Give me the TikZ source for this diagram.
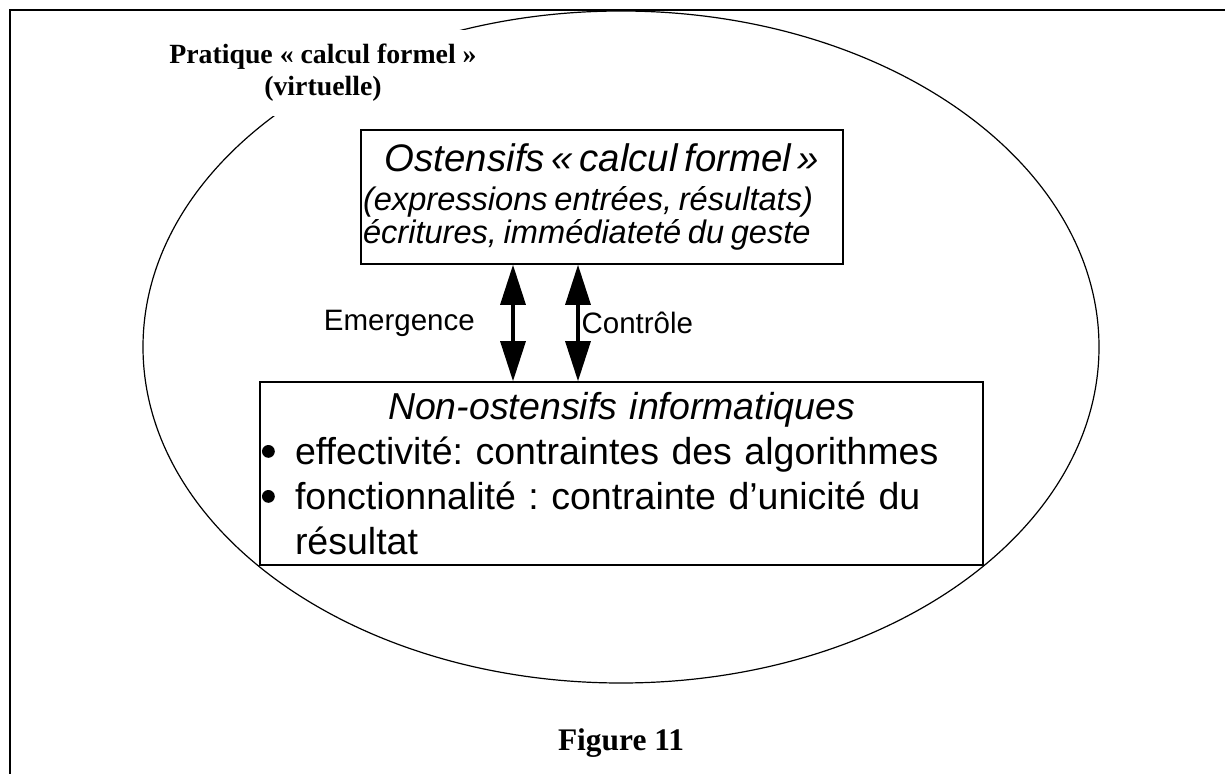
\documentclass[tikz,border=0pt]{standalone}
\usepackage{fontspec}
\setmainfont{Liberation Serif}
\setsansfont{Liberation Sans}
\usepackage{tikz}
\usetikzlibrary{shapes.geometric, arrows.meta, positioning}
\frenchspacing
\newcommand\itemdot{\tikz[baseline=-6.5pt]\fill (0pt,0pt) circle[radius=3.2pt];}

\begin{document}
\begin{tikzpicture}[
    x=0.5pt, y=0.5pt,
    box/.style={rectangle, draw, line width=0.8pt, inner xsep=1pt, inner ysep=0pt, align=left, font=\sffamily},
    biarrow/.style={{Triangle[length=20pt,width=12.5pt]}-{Triangle[length=20pt,width=12.5pt]}, line width=1.6pt},
    tag/.style={font=\sffamily\fontsize{14.75}{17.7}\selectfont}
]
    \useasboundingbox (0,0) rectangle (1225,-774);
    \draw[line width=1pt] (10,-774) |- (1225,-10);

    \node[ellipse, draw, line width=0.6pt, minimum width=478pt, minimum height=336pt, inner sep=0pt] (practice) at (621,-347) {};
    \node[fill=white, inner xsep=0pt, inner ysep=0pt, minimum height=43pt, align=center, anchor=south east, font=\bfseries\fontsize{13.9}{16}\selectfont] (practicelabel) at (477,-116) {Pratique « calcul formel »\\(virtuelle)};

    \node[box, text width=239pt, minimum height=67pt] (ostensifs) at (602,-197) {{\centering\fontsize{19.2}{22}\selectfont\itshape Ostensifs « calcul formel »\par}\fontsize{16.3}{19.25}\selectfont\itshape (expressions entrées, résultats)\\écritures, immédiateté du geste};
    \node[box, text width=359.5pt, minimum height=91.5pt, font=\sffamily\fontsize{18.75}{22.5}\selectfont] (nonostensifs) at (621.5,-473.5) {{\centering\itshape Non-ostensifs informatiques\par}
        \noindent\makebox[16.5pt][l]{\itemdot}\parbox[t]{342pt}{\raggedright effectivité: contraintes des algorithmes}\par
        \noindent\makebox[16.5pt][l]{\itemdot}\parbox[t]{342pt}{\raggedright fonctionnalité : contrainte d’unicité du\\résultat}};

    \draw[biarrow] ([xshift=-44.5pt]ostensifs.south) -- ([xshift=-44.5pt]ostensifs.south |- nonostensifs.north) node[midway, left=15pt, tag] (emergence) {Emergence};
    \draw[biarrow] ([xshift=-12pt]ostensifs.south) -- ([xshift=-12pt]ostensifs.south |- nonostensifs.north) node[midway, right, inner xsep=1pt, tag] (control) {Contrôle};

    \node[below=33.5pt of practice, anchor=base, font=\bfseries\fontsize{15.7}{19}\selectfont] (caption) {Figure 11};
\end{tikzpicture}
\end{document}
